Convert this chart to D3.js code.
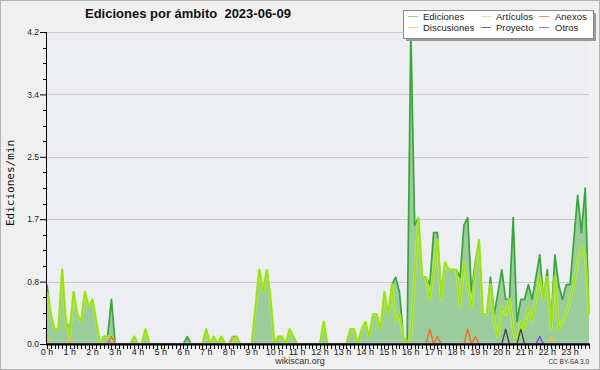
<!DOCTYPE html>
<html><head><meta charset="utf-8">
<script src="https://cdn.jsdelivr.net/npm/d3@7"></script>
<style>body{margin:0;background:#f0f0f0}svg{display:block}text{white-space:pre}</style>
</head><body><svg id="c" width="600" height="370"></svg>
<script>
// ---- data (edits per minute, 10-minute bins, one row per hour) ----
const hourLabels = d3.range(24).map(h => h + " h");
const yTickValues = [0, 0.84, 1.68, 2.52, 3.36, 4.2];
const ediciones = [
0.8,0.4,0.2,0.2,1.0,0.3, 0.2,0.7,0.4,0.3,0.7,0.5, 0.6,0.3,0,0.1,0.1,0.6, 0,0,0,0,0,0.1,
0,0,0.2,0,0,0, 0,0,0,0,0,0, 0,0.1,0,0,0,0, 0.2,0,0.1,0,0.1,0,
0,0.1,0.1,0,0,0, 0,0.5,1.0,0.7,1.0,0.6, 0,0.1,0.1,0,0.2,0.1, 0,0,0,0,0,0,
0,0.3,0,0,0,0, 0,0,0.2,0.2,0,0.2, 0.3,0.1,0.4,0.4,0.2,0.7, 0.4,0.8,0.9,0.7,0.1,0,
4.2,1.6,1.7,0.9,0.9,0.8, 1.5,1.5,0.7,1.1,1.0,1.0, 1.0,0.9,1.6,1.7,0.7,1.1, 1.4,0.4,0.4,0.9,0.4,0.7,
1.0,0.6,0.6,1.7,0.3,0.6, 0.6,0.8,0.6,0.9,1.2,0.6, 1.0,0.3,1.2,0.8,0.6,0.8, 0.8,1.4,2.0,1.5,2.1,0.4];
const articulos = [
0.7,0.4,0.2,0.2,1.0,0.3, 0.1,0.7,0.4,0.3,0.7,0.5, 0.6,0.3,0,0.1,0.1,0.1, 0,0,0,0,0,0.1,
0,0,0.2,0,0,0, 0,0,0,0,0,0, 0,0,0,0,0,0, 0.2,0,0.1,0,0.1,0,
0,0,0.1,0,0,0, 0,0.5,1.0,0.7,1.0,0.6, 0,0.1,0.1,0,0.2,0.1, 0,0,0,0,0,0,
0,0.3,0,0,0,0, 0,0,0.2,0.2,0,0.2, 0.3,0.1,0.4,0.4,0.2,0.7, 0.4,0.8,0.3,0.4,0.1,0,
0.1,0.9,1.7,0.9,0.9,0.6, 1.0,1.4,0.6,1.1,1.0,1.0, 1.0,0.5,1.1,0.8,0.5,1.0, 1.4,0.4,0.4,0.8,0.3,0.1,
0.5,0.4,0.6,0.2,0,0.3, 0.2,0.5,0.3,0.6,0.9,0.6, 0.9,0.2,0.9,0.2,0.3,0.4, 0.6,0.8,1.1,1.3,1.2,0.4];
const anexos = [
0,0,0,0,0,0, 0,0,0,0,0,0, 0,0,0,0,0,0.1, 0,0,0,0,0,0,
0,0,0,0,0,0, 0,0,0,0,0,0, 0,0,0,0,0,0, 0,0,0,0,0,0,
0,0,0,0,0,0, 0,0,0,0,0,0, 0,0,0,0,0,0, 0,0,0,0,0,0,
0,0,0,0,0,0, 0,0,0,0,0,0, 0,0,0,0,0,0, 0,0,0,0,0,0,
0,0,0,0,0,0.2, 0,0.1,0,0,0,0, 0,0,0,0.2,0,0.1, 0,0,0,0,0,0,
0,0,0,0,0,0, 0,0,0,0,0,0, 0,0,0,0,0,0, 0,0,0,0,0,0];
const discusiones = [
0.1,0,0,0,0,0, 0.1,0,0,0,0,0, 0,0,0,0,0,0, 0,0,0,0,0,0,
0,0,0,0,0,0, 0,0,0,0,0,0, 0,0,0,0,0,0, 0,0,0,0,0,0,
0,0.1,0,0,0,0, 0,0,0,0,0,0, 0,0,0,0,0,0, 0,0,0,0,0,0,
0,0,0,0,0,0, 0,0,0,0,0,0, 0,0,0,0,0,0, 0,0,0,0,0,0,
0,0,0,0,0,0, 0,0,0,0,0,0, 0,0,0,0,0,0, 0,0,0,0,0,0,
0,0,0,0,0,0, 0,0,0,0,0,0, 0,0.1,0,0,0,0, 0,0,0,0,0,0];
const proyecto = [
0,0,0,0,0,0, 0,0,0,0,0,0, 0,0,0,0,0,0, 0,0,0,0,0,0,
0,0,0,0,0,0, 0,0,0,0,0,0, 0,0,0,0,0,0, 0,0,0,0,0,0,
0,0,0,0,0,0, 0,0,0,0,0,0, 0,0,0,0,0,0, 0,0,0,0,0,0,
0,0,0,0,0,0, 0,0,0,0,0,0, 0,0,0,0,0,0, 0,0,0,0,0,0,
0,0,0,0,0,0, 0,0,0,0,0,0, 0,0,0,0,0,0, 0,0,0,0,0,0,
0,0.2,0,0,0,0.2, 0,0,0,0,0,0, 0,0,0,0,0,0, 0,0,0,0,0,0];
const otros = [
0,0,0,0,0,0, 0,0,0,0,0,0, 0,0,0,0,0,0, 0,0,0,0,0,0,
0,0,0,0,0,0, 0,0,0,0,0,0, 0,0,0,0,0,0, 0,0,0,0,0,0,
0,0,0,0,0,0, 0,0,0,0,0,0, 0,0,0,0,0,0, 0,0,0,0,0,0,
0,0,0,0,0,0, 0,0,0,0,0,0, 0,0,0,0,0,0, 0,0,0,0,0,0,
0,0,0,0,0,0, 0,0,0,0,0,0, 0,0,0,0,0,0, 0,0,0,0,0,0,
0,0,0,0,0,0, 0,0,0,0,0.1,0, 0,0,0,0,0,0, 0,0,0,0,0,0];
const legendNames = ["Ediciones","Artículos","Anexos","Discusiones","Proyecto","Otros"];

// ---- drawing ----
const svg = d3.select("#c");
const W = 600, H = 370;
const L = 46, R = 589, T = 32, B = 344;
const x = d3.scaleLinear().domain([0, 143]).range([L + 1, R]);
const y = d3.scaleLinear().domain([0, 4.2]).range([B, T]);
const FONT = "'Liberation Sans', Arial, sans-serif";

svg.append("rect").attr("x",0).attr("y",0).attr("width",W).attr("height",H).attr("fill","#f0f0f0");
svg.append("rect").attr("x",0.5).attr("y",0.5).attr("width",W-1).attr("height",H-1)
  .attr("fill","none").attr("stroke","#b4b4b4");
svg.append("rect").attr("x",L).attr("y",T).attr("width",R-L).attr("height",B-T).attr("fill","#eceef1");

// grid
svg.append("g").selectAll("line").data(yTickValues.slice(1)).join("line")
  .attr("x1",L).attr("x2",R).attr("y1",d=>Math.round(y(d))+0.5).attr("y2",d=>Math.round(y(d))+0.5)
  .attr("stroke","#cbcbcb").attr("stroke-width",1);

// total area and line
const area = d3.area().x((d,i)=>x(i)).y0(B).y1(d=>y(d));
const line = d3.line().x((d,i)=>x(i)).y(d=>y(d));
svg.append("path").datum(ediciones).attr("d",area).attr("fill","#9bcc9b");
svg.append("path").datum(ediciones).attr("d",line).attr("fill","none")
  .attr("stroke","#38a638").attr("stroke-width",1.7).attr("stroke-linejoin","round");
svg.append("path").datum(articulos).attr("d",line).attr("fill","none")
  .attr("stroke","#c8f55a").attr("stroke-width",2.8).attr("stroke-linejoin","round").attr("opacity",0.7);
svg.append("path").datum(articulos).attr("d",line).attr("fill","none")
  .attr("stroke","#9ae300").attr("stroke-width",1.4).attr("stroke-linejoin","round");
const minor = [[anexos,"#f06a22"],[discusiones,"#f0c528"],[proyecto,"#444444"],[otros,"#7a3cf0"]];
minor.forEach(([arr,c])=>{
  svg.append("path").datum(arr).attr("d",line).attr("fill","none")
    .attr("stroke",c).attr("stroke-width",1.3).attr("stroke-linejoin","round");
});

// y axis
const yAxisG = svg.append("g").attr("transform",`translate(${L},0)`);
yAxisG.call(d3.axisLeft(y).tickValues(yTickValues).tickFormat(d3.format(".1f")).tickSize(6).tickPadding(1))
  .call(g=>g.select(".domain").remove());
yAxisG.selectAll("text").attr("font-family",FONT).attr("font-size",8.5).attr("fill","#222");
yAxisG.selectAll("line").attr("stroke","#000");
const minorY = d3.range(0, 21).map(k => k * 0.21).filter((d,k)=>k%4!==0);
yAxisG.append("g").selectAll("line").data(minorY).join("line")
  .attr("x1",-3).attr("x2",0).attr("y1",d=>Math.round(y(d))+0.5).attr("y2",d=>Math.round(y(d))+0.5)
  .attr("stroke","#000");
svg.append("line").attr("x1",L+0.5).attr("x2",L+0.5).attr("y1",T).attr("y2",B+1).attr("stroke","#000");

// x axis
svg.append("g").selectAll("line").data(d3.range(0,144)).join("line")
  .attr("x1",d=>Math.round(x(d))+0.5).attr("x2",d=>Math.round(x(d))+0.5)
  .attr("y1",B).attr("y2",B+5).attr("stroke","#000");
svg.append("line").attr("x1",L).attr("x2",R+1).attr("y1",B+0.5).attr("y2",B+0.5)
  .attr("stroke","#000").attr("stroke-width",2);
svg.append("g").selectAll("text").data(hourLabels).join("text")
  .attr("x",(d,i)=>x(i*6)).attr("y",B+10.5).attr("text-anchor","middle")
  .attr("font-family",FONT).attr("font-size",9).attr("fill","#222").text(d=>d);

// titles
svg.append("text").attr("x",85).attr("y",18).attr("font-family",FONT).attr("font-weight","bold")
  .attr("font-size",13).attr("fill","#111").text("Ediciones por ámbito  2023-06-09");
svg.append("text").attr("transform","translate(14,183) rotate(-90)").attr("text-anchor","middle")
  .attr("font-family","'DejaVu Sans Mono', monospace").attr("font-size",11).attr("fill","#111").text("Ediciones/min");
svg.append("text").attr("x",300).attr("y",364).attr("text-anchor","middle")
  .attr("font-family",FONT).attr("font-size",9).attr("fill","#333").text("wikiscan.org");
svg.append("text").attr("x",589).attr("y",364).attr("text-anchor","end")
  .attr("font-family",FONT).attr("font-size",6.5).attr("fill","#333").text("CC BY-SA 3.0");

// legend
const lg = svg.append("g");
lg.append("rect").attr("x",406).attr("y",13).attr("width",190).attr("height",28).attr("fill","#9a9a9a");
lg.append("rect").attr("x",403.5).attr("y",10.5).attr("width",190).attr("height",28)
  .attr("fill","#fff").attr("stroke","#8a8a8a").attr("stroke-width",1);
const legendColors = ["#8fd08f","#d6f07a","#f49060","#f5d76e","#6a6a6a","#a070f0"];
const colX = [408, 481, 539], textX = [423, 496, 555], rowY = [20, 31];
legendNames.forEach((n,k)=>{
  const c = k % 3, r = Math.floor(k / 3);
  lg.append("line").attr("x1",colX[c]).attr("x2",colX[c]+10).attr("y1",rowY[r]-3.5).attr("y2",rowY[r]-3.5)
    .attr("stroke",legendColors[k]).attr("stroke-width",1);
  lg.append("text").attr("x",textX[c]).attr("y",rowY[r]).attr("font-family",FONT)
    .attr("font-size",9.5).attr("fill","#222").text(n);
});
</script></body></html>
